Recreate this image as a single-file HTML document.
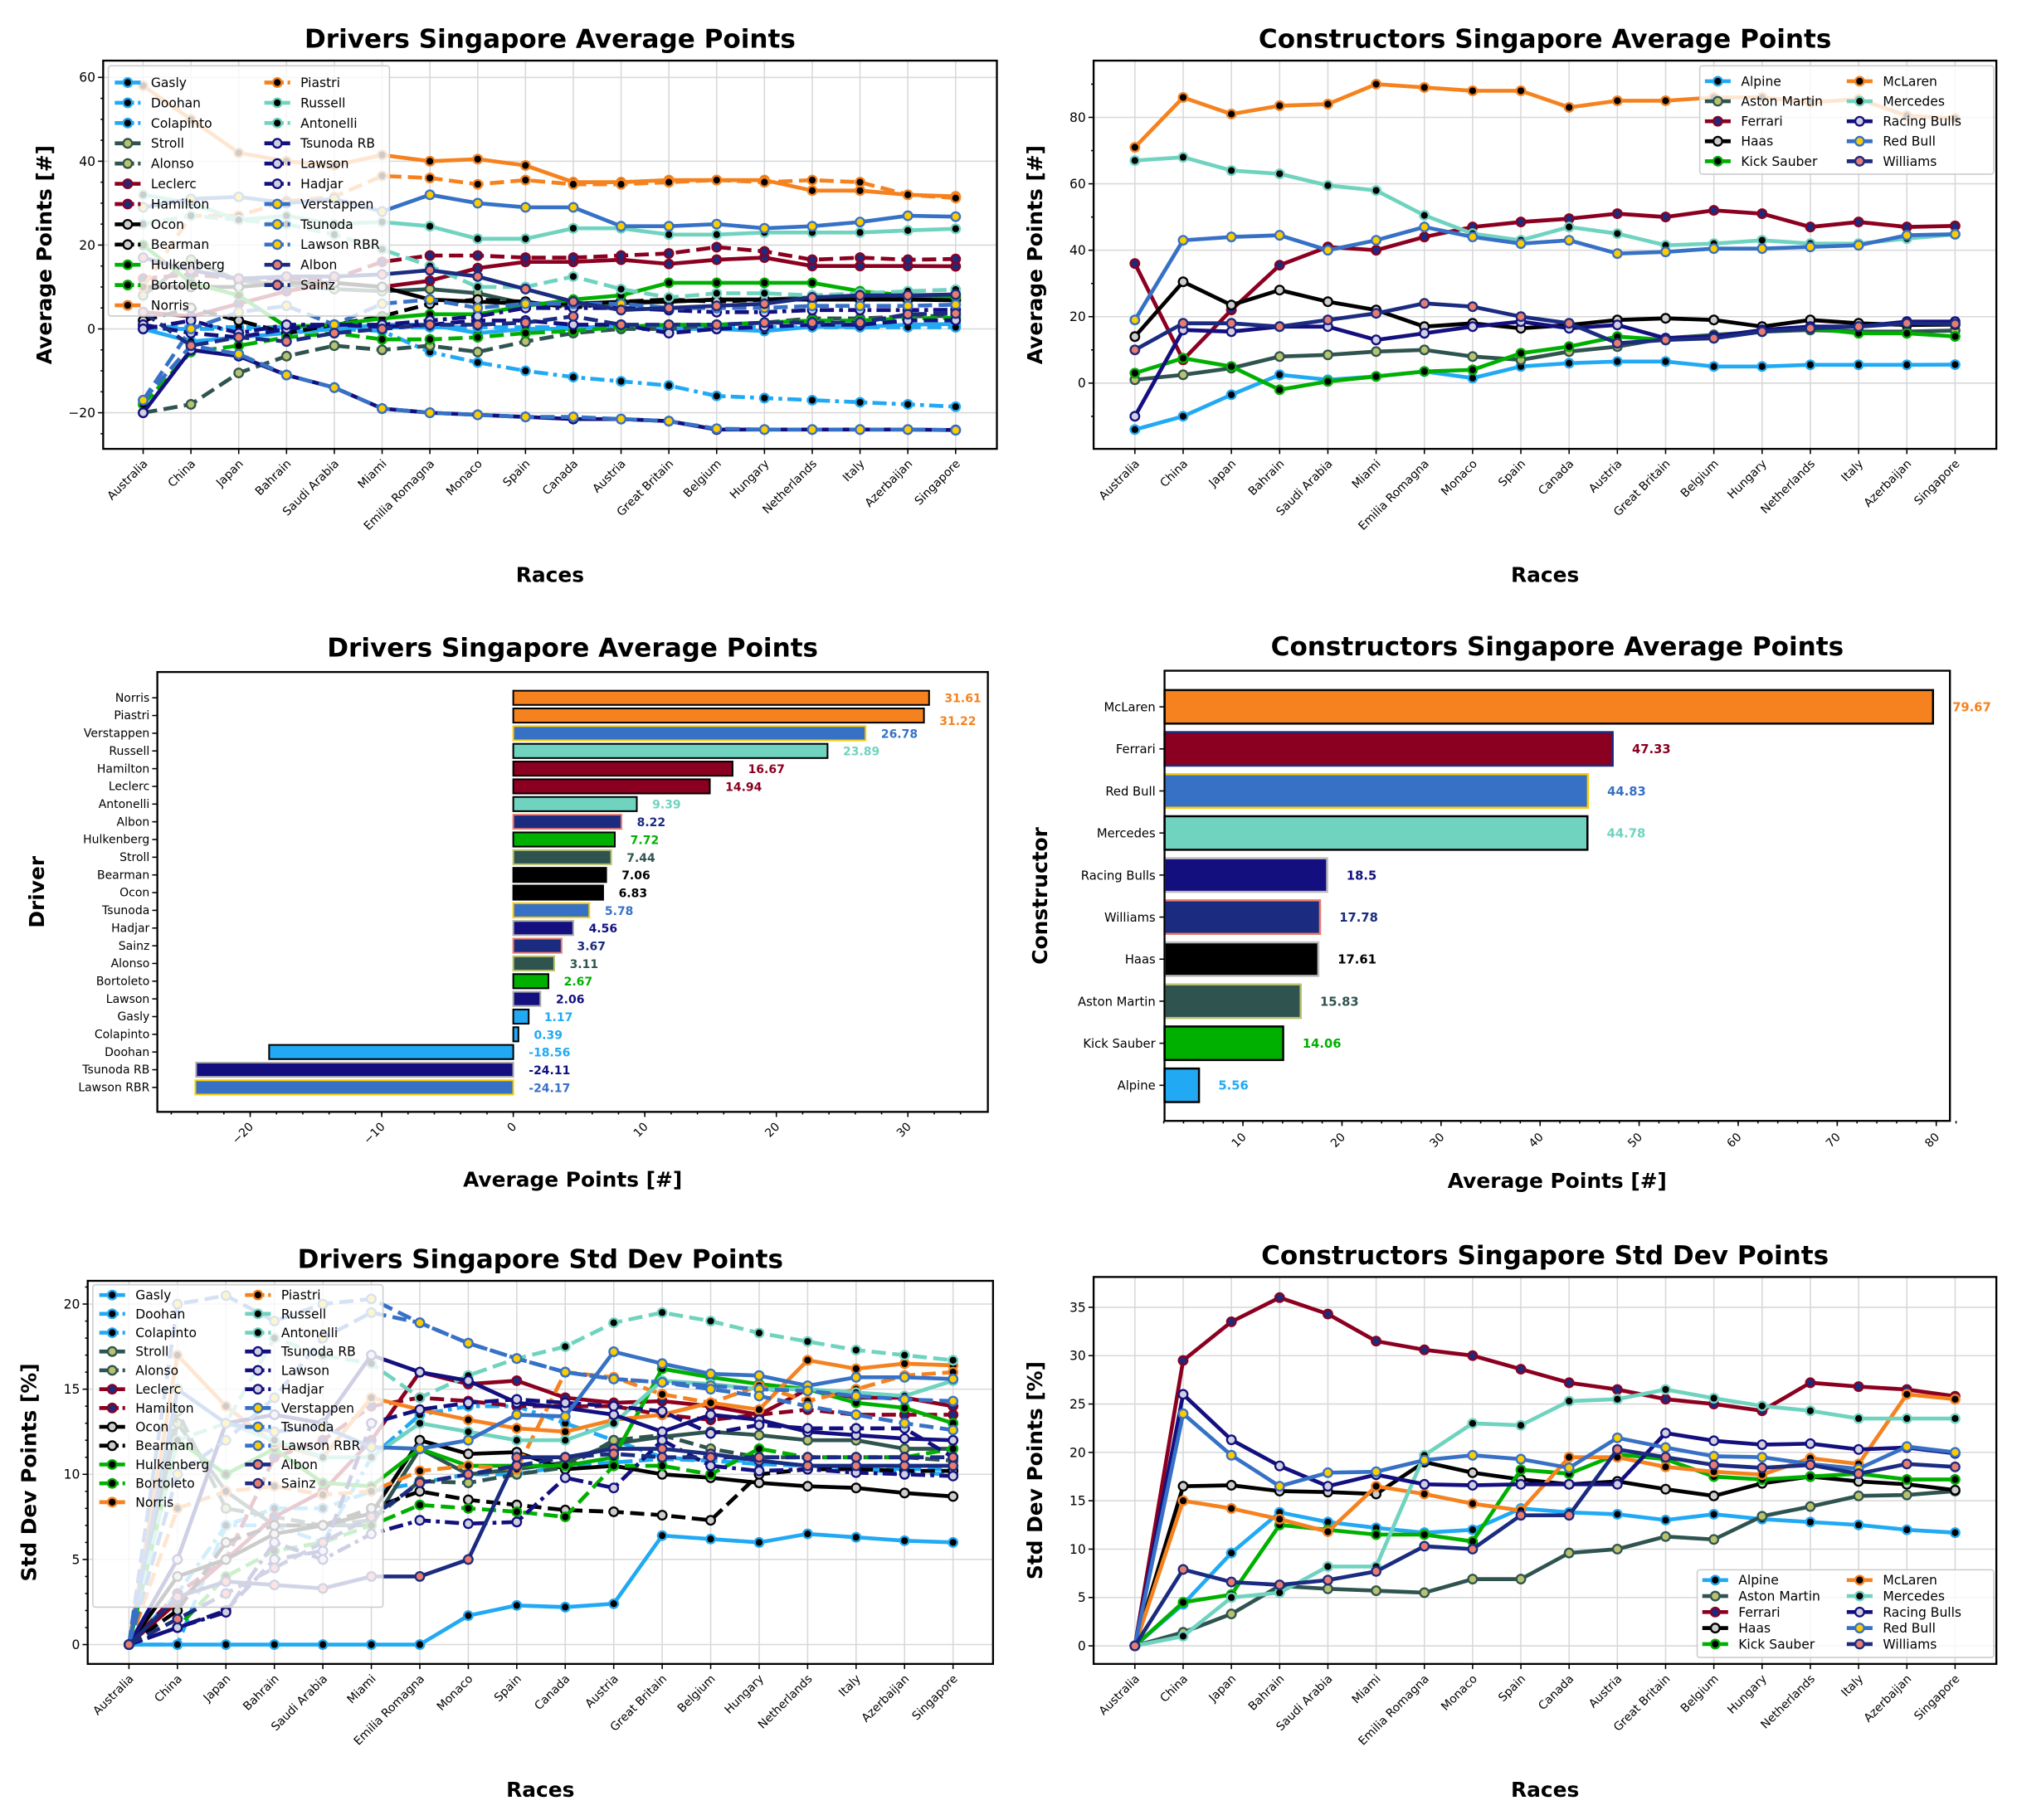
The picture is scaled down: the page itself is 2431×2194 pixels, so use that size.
<!DOCTYPE html>
<html><head><meta charset="utf-8"><style>
html,body{margin:0;padding:0;background:#fff}
svg{display:block}
text{font-family:"DejaVu Sans","Liberation Sans",sans-serif}
</style></head><body>
<svg id="s" width="2431" height="2194" viewBox="0 0 1564 1411" preserveAspectRatio="none" xmlns="http://www.w3.org/2000/svg"></svg>
<script>
const S=document.getElementById('s');const NS='http://www.w3.org/2000/svg';
function el(t,a,txt,p){const e=document.createElementNS(NS,t);for(const k in a)e.setAttribute(k,a[k]);if(txt!==undefined)e.textContent=txt;(p||S).appendChild(e);return e;}
const races=["Australia","China","Japan","Bahrain","Saudi Arabia","Miami","Emilia Romagna","Monaco","Spain","Canada","Austria","Great Britain","Belgium","Hungary","Netherlands","Italy","Azerbaijan","Singapore"];
const T={Alpine:["#21a9f4","#000"],Aston:["#2f5450","#b8c16d"],Ferrari:["#8b0020","#1a2b80"],Haas:["#000","#ccc"],Sauber:["#00b000","#000"],McLaren:["#f5821f","#000"],Mercedes:["#6fd3bf","#000"],RB:["#130f7f","#cfcfe0"],RedBull:["#3671c6","#fccb00"],Williams:["#1a2b80","#e87c6e"]};
const D="11,5",DD="11,4,3,4";
const drv={
Gasly:["Alpine","",[0,-3,-2,-1,0,1,1,-1,0,0,1,0,0,-0.5,0.5,0.5,1,1.17],[0,0,0,0,0,0,0,1.7,2.3,2.2,2.4,6.4,6.2,6,6.5,6.3,6.1,6]],
Doohan:["Alpine",DD,[0,0,0,0,0,-0.5,-5.5,-8,-10,-11.5,-12.5,-13.5,-16,-16.5,-17,-17.5,-18,-18.56],[0,3,7,7,6,11,13.5,14,14,13,12,11,10.8,10.8,10.5,10.3,10.1,10]],
Colapinto:["Alpine",D,[0.5,0.5,0.4,0.4,0.4,0.4,0.4,0.4,0.4,0.4,0.4,0.4,0.4,0.4,0.4,0.4,0.4,0.39],[0,0,7,8,8,9,9.5,10,10,10.5,10.7,10.9,10.8,10.6,10.5,10.4,10.3,10.3]],
Stroll:["Aston","",[8,16.5,11.5,10.5,9.5,9,9.5,8.5,6,5.5,6,6.5,7,7,7.5,7.5,7.5,7.44],[0,13,9,7,7,7,11.5,10,10.3,10.7,11.8,12.2,12.5,12.3,12,12,11.5,11.5]],
Alonso:["Aston",D,[-20,-18,-10.5,-6.5,-4,-5,-4,-5.5,-3,-1,0,0,1,1.5,2.5,2.5,3,3.11],[0,13.7,8,7.5,7,7.3,9.6,9.5,10,10.4,12,12.3,11.5,11,11,11,11,10.8]],
Leclerc:["Ferrari","",[4,3,6,9,11,10,11.5,14.5,16,16,16.5,15.5,16.5,17,15,15,15,14.94],[0,2.5,5,7.5,9,12,16,15.3,15.5,14.5,14.2,14.3,14,13.5,15,14.5,14.5,14]],
Hamilton:["Ferrari",D,[12,13,12,12,12,16,17.5,17.5,17,17,17.5,18,19.5,18.5,16.5,17,16.5,16.67],[0,3,5,11,12,14,14.5,14.3,14,14,14,13.5,13.2,13.5,13.8,13.5,13.5,13.5]],
Ocon:["Haas","",[10,10,10,11,11,10,7,6.5,6,6,6.5,6.5,7,7,7,7,7,6.83],[0,4,5,6.5,7,7.7,12,11.2,11.3,10.3,10.5,10,9.8,9.5,9.3,9.2,8.9,8.7]],
Bearman:["Haas",D,[2,5,2,-1,1,3,6,7,6.5,5,6.5,7,6.5,7,7,7,7,7.06],[0,2,6,7,7,8,9,8.5,8.2,7.9,7.8,7.6,7.3,10,10.3,10.3,10.2,10.2]],
Hulkenberg:["Sauber","",[20,11,8,0.5,1,2.5,3.5,3.5,5.5,7,8,11,11,11,11,9,8,7.72],[0,12,10,11.5,9.5,9.3,11.5,10.5,10.5,10.5,11,16.2,15.7,15.3,15,14.2,13.9,13]],
Bortoleto:["Sauber",D,[-18,-5.5,-4,-2,-1,-2.5,-2.5,-2,-1,-0.5,0.5,1,1,1.5,2,2,2.5,2.67],[0,1,4,5.5,6,7,8.2,8,7.8,7.5,10.5,10.5,10,11.5,11,11,11,11.5]],
Norris:["McLaren","",[58,50,42,40,39,41.5,40,40.5,39,35,35,35.5,35.5,35.5,33,33,32,31.61],[0,17,14,11.8,11,14.5,13.8,13.2,12.7,12.5,13.2,13.5,14.2,13.8,16.7,16.2,16.5,16.4]],
Piastri:["McLaren",D,[10,27,27,30.5,31.5,36.5,36,34.5,35.5,34.5,34.5,35,35.5,35,35.5,35,32,31.22],[0,8,9,9.3,8.8,9,10.2,10.5,10.3,16,15.7,14.7,14.2,15.2,14.3,15,15.8,16]],
Russell:["Mercedes","",[32,30,26,27,25,25.5,24.5,21.5,21.5,24,24,22.5,22.5,23,23,23,23.5,23.89],[0,5,13,12,11,11,13,12.5,12,12,13,15.5,15.3,15,15,14.8,14.6,15.5]],
Antonelli:["Mercedes",D,[25,27,26,25,22.5,19,15,10,10,12.5,9.5,7.5,8.5,8.5,8,8.5,9,9.39],[0,12,13,18,17,16.5,14.5,15.8,16.8,17.5,18.9,19.5,19,18.3,17.8,17.3,17,16.7]],
"Tsunoda RB":["RB","",[-20,-5,-6.5,-11,-14,-19,-20,-20.5,-21,-21.5,-21.5,-22,-24,-24,-24,-24,-24,-24.11],[0,5,13,13.5,13,17,16,15.5,14.2,13.9,13.5,12.5,13.5,13.2,12.5,12.3,12.1,12]],
Lawson:["RB",D,[1,-1,-2,0,1,0.5,1,2,2,1,1,-1,0,0.5,1,1,2,2.06],[0,1,2,5,5.5,13,13.8,14.2,14.4,14.2,14,13.7,12.4,12.9,12.7,12.7,12.7,11]],
Hadjar:["RB",DD,[0,2,-1,1,1,1,2,3,5,5,5,4.5,4,4,4.5,4.5,4.5,4.56],[0,1,1.9,6,5,6.5,7.3,7.1,7.2,9.8,9.2,12,10.5,10.2,10.3,10.1,10,9.9]],
Verstappen:["RedBull","",[29,31,31.5,30,31,28,32,30,29,29,24.5,24.5,25,24,24.5,25.5,27,26.78],[0,15,13,12.5,12.8,11.6,11.5,12,13.5,13.4,17.2,16.5,15.9,15.8,15.2,15.7,15.7,15.6]],
Tsunoda:["RedBull",D,[-17,0,4,5.5,1,6,7,5,6,6,6,5,5,5,5.5,5.5,5.5,5.78],[0,10,12,14.5,18,19.5,18.9,17.7,16.8,16,15.6,15.4,15.2,15,14.9,14.6,14.4,14.3]],
"Lawson RBR":["RedBull",D,[-17,-4,-6,-11,-14,-19,-20,-20.5,-21,-21,-21.5,-22,-23.8,-24,-24,-24,-24,-24.17],[0,20,20.5,19,20,20.3,18.9,17.7,16.8,16,15.6,15.4,15,14.6,14,13.5,13,12.6]],
Albon:["Williams","",[17,14,12,12.5,12.5,13,14,12.5,9.5,6.5,4.5,5,5.5,6,7.5,8,8,8.22],[0,2.8,3.7,3.5,3.3,4,4,5,11,11,11.5,11.5,11.2,10.8,10.5,10.5,10.5,10.5]],
Sainz:["Williams",D,[4,-4,-2,-3,-1,0,1,1,1.5,3,1,1,1,1.5,1.5,1.5,3.5,3.67],[0,1.5,3,4.5,6,7.5,9.5,10,10.5,11,11.2,11,11,11,11,11,11,11]]
};
const con={
Alpine:["Alpine",[-14,-10,-3.5,2.5,1,2,3.5,1.5,5,6,6.5,6.5,5,5,5.5,5.5,5.5,5.56],[0,4.3,9.6,13.8,12.8,12.2,11.7,12,14.2,13.8,13.6,13,13.6,13.1,12.8,12.5,12,11.7]],
"Aston Martin":["Aston",[1,2.5,4.5,8,8.5,9.5,10,8,7,9.5,11,13.5,14.5,15.5,16,15.5,15.5,15.83],[0,1.4,3.3,6.2,5.9,5.7,5.5,6.9,6.9,9.6,10,11.3,11,13.4,14.4,15.5,15.6,16]],
Ferrari:["Ferrari",[36,7,22,35.5,41,40,44,47,48.5,49.5,51,50,52,51,47,48.5,47,47.33],[0,29.5,33.5,36,34.3,31.5,30.6,30,28.6,27.2,26.5,25.5,25,24.3,27.2,26.8,26.5,25.8]],
Haas:["Haas",[14,30.5,23.5,28,24.5,22,17,18,16.5,17.5,19,19.5,19,17,19,18,17.5,17.61],[0,16.5,16.6,16,15.9,15.7,19,17.9,17.2,16.7,17,16.2,15.5,16.8,17.5,17,16.7,16.1]],
"Kick Sauber":["Sauber",[3,7.5,5,-2,0.5,2,3.5,4,9,11,14,13,14,15.5,16.5,15,15,14.06],[0,4.5,5.3,12.5,12,11.5,11.5,10.8,18.2,17.8,19.8,19.3,17.5,17.2,17.5,17.8,17.2,17.2]],
McLaren:["McLaren",[71,86,81,83.5,84,90,89,88,88,83,85,85,86,86,84.5,85.5,80.5,79.67],[0,15,14.2,13.1,11.8,16.5,15.7,14.7,14,19.5,19.5,18.5,18,17.7,19.4,18.8,26,25.5]],
Mercedes:["Mercedes",[67,68,64,63,59.5,58,50.5,45,43,47,45,41.5,42,43,42,42,43.5,44.78],[0,1,5,5.5,8.2,8.2,19.7,23,22.8,25.3,25.5,26.5,25.6,24.8,24.3,23.5,23.5,23.5]],
"Racing Bulls":["RB",[-10,16,15.5,17,17,13,15,17,18.5,16.5,17.5,13.5,14,16,17,17,18.5,18.5],[0,26,21.3,18.6,16.5,17.7,16.7,16.6,16.7,16.7,16.7,22,21.2,20.8,20.9,20.3,20.5,19.9]],
"Red Bull":["RedBull",[19,43,44,44.5,40,43,47,44,42,43,39,39.5,40.5,40.5,41,41.5,44.5,44.83],[0,24,19.7,16.5,17.9,18,19.2,19.7,19.3,18.4,21.5,20.5,19.6,19.5,18.8,18.3,20.6,20]],
Williams:["Williams",[10,18,18,17,19,21,24,23,20,18,12,13,13.5,15.5,16.5,17,18,17.78],[0,7.9,6.6,6.3,6.8,7.7,10.3,10,13.5,13.5,20.3,19.5,18.7,18.4,18.7,17.8,18.8,18.5]]
};
function title(x,y,t){el('text',{x:x,y:y,'text-anchor':'middle','font-size':20,'font-weight':'bold'},t);}
function frame(x0,y0,x1,y1){el('rect',{x:x0,y:y0,width:x1-x0,height:y1-y0,fill:'none',stroke:'#000','stroke-width':1.5});}
function linePanel(o){
 const X=i=>o.xa+i*(o.xb-o.xa)/17, Y=v=>o.y0-v*o.k;
 o.yt.forEach(v=>{el('line',{x1:o.L,x2:o.R,y1:Y(v),y2:Y(v),stroke:'#d8d8d8','stroke-width':1});});
 races.forEach((r,i)=>el('line',{x1:X(i),x2:X(i),y1:o.T,y2:o.B,stroke:'#d8d8d8','stroke-width':1}));
 o.series.forEach(s=>{
  const c=T[s.team];const pts=s.v.map((v,i)=>X(i)+','+Y(v)).join(' ');
  el('polyline',{points:pts,fill:'none',stroke:c[0],'stroke-width':3,'stroke-dasharray':s.dash||'none','stroke-linejoin':'round'});
  s.v.forEach((v,i)=>el('circle',{cx:X(i),cy:Y(v),r:3.4,fill:c[1],stroke:c[0],'stroke-width':1.5}));
 });
 frame(o.L,o.T,o.R,o.B);
 o.yt.forEach(v=>{el('line',{x1:o.L-4,x2:o.L,y1:Y(v),y2:Y(v),stroke:'#000'});el('text',{x:o.L-6,y:Y(v)+3.5,'text-anchor':'end','font-size':10},String(v).replace('-','−'));});
 (o.ym||[]).forEach(v=>el('line',{x1:o.L-2,x2:o.L,y1:Y(v),y2:Y(v),stroke:'#000'}));
 races.forEach((r,i)=>{el('line',{x1:X(i),x2:X(i),y1:o.B,y2:o.B+4,stroke:'#000'});el('text',{x:X(i)+4,y:o.B+12,'text-anchor':'end','font-size':9,transform:`rotate(-45 ${X(i)+4} ${o.B+12})`},r);});
 el('text',{x:(o.L+o.R)/2,y:o.B+103,'text-anchor':'middle','font-size':16,'font-weight':'bold'},'Races');
 el('text',{x:0,y:0,'text-anchor':'middle','font-size':16,'font-weight':'bold',transform:`translate(${o.L-40} ${(o.T+o.B)/2}) rotate(-90)`},o.ylab);
 title((o.L+o.R)/2,o.T-10,o.title);
 const lg=o.leg;el('rect',{x:lg.x,y:lg.y,width:lg.w,height:lg.h,fill:'#fff','fill-opacity':0.8,stroke:'#ccc',rx:2});
 o.series.forEach((s,i)=>{const col=Math.floor(i/lg.rows),row=i%lg.rows;const hx=lg.cx[col],hy=lg.ry+row*lg.step;const c=T[s.team];
  el('line',{x1:hx,x2:hx+20,y1:hy,y2:hy,stroke:c[0],'stroke-width':3,'stroke-dasharray':s.dash?'6,3':'none'});
  el('circle',{cx:hx+10,cy:hy,r:3.4,fill:c[1],stroke:c[0],'stroke-width':1.5});
  el('text',{x:hx+28,y:hy+3.5,'font-size':10},s.name);});
}
const dOrder=["Gasly","Doohan","Colapinto","Stroll","Alonso","Leclerc","Hamilton","Ocon","Bearman","Hulkenberg","Bortoleto","Norris","Piastri","Russell","Antonelli","Tsunoda RB","Lawson","Hadjar","Verstappen","Tsunoda","Lawson RBR","Albon","Sainz"];
const cOrder=["Alpine","Aston Martin","Ferrari","Haas","Kick Sauber","McLaren","Mercedes","Racing Bulls","Red Bull","Williams"];
linePanel({L:80,R:773,T:47,B:348,xa:111,xb:741,y0:255,k:3.25,yt:[-20,0,20,40,60],ym:[-25,-15,-10,-5,5,10,15,25,30,35,45,50,55],ylab:'Average Points [#]',title:'Drivers Singapore Average Points',
 series:dOrder.map(n=>({name:n,team:drv[n][0],dash:drv[n][1],v:drv[n][2]})),leg:{x:84,y:51,w:218,h:194,rows:12,cx:[89,205],ry:64,step:15.7}});
linePanel({L:848,R:1548,T:47,B:348,xa:880,xb:1516,y0:297,k:2.575,yt:[0,20,40,60,80],ym:[-10,10,30,50,70,90],ylab:'Average Points [#]',title:'Constructors Singapore Average Points',
 series:cOrder.map(n=>({name:n,team:con[n][0],v:con[n][1]})),leg:{x:1318,y:51,w:228,h:84,rows:5,cx:[1322,1432],ry:63,step:15.5}});
linePanel({L:68,R:770,T:993,B:1290,xa:100,xb:739,y0:1275,k:13.2,yt:[0,5,10,15,20],ym:[1,2,3,4,6,7,8,9,11,12,13,14,16,17,18,19,21],ylab:'Std Dev Points [%]',title:'Drivers Singapore Std Dev Points',
 series:dOrder.map(n=>({name:n,team:drv[n][0],dash:drv[n][1],v:drv[n][3]})),leg:{x:72,y:996,w:225,h:250,rows:12,cx:[77,190],ry:1004,step:14.6}});
linePanel({L:848,R:1548,T:990,B:1290,xa:880,xb:1516,y0:1276,k:7.5,yt:[0,5,10,15,20,25,30,35],ym:[],ylab:'Std Dev Points [%]',title:'Constructors Singapore Std Dev Points',
 series:cOrder.map(n=>({name:n,team:con[n][0],v:con[n][2]})),leg:{x:1316,y:1217,w:230,h:68,rows:5,cx:[1320,1432],ry:1225,step:12.4}});
(function(){
 const L=122,R=766,Tp=521,B=862,X=v=>398+10.2*v;
 const d=[["Norris",31.61,"McLaren"],["Piastri",31.22,"McLaren"],["Verstappen",26.78,"RedBull"],["Russell",23.89,"Mercedes"],["Hamilton",16.67,"Ferrari"],["Leclerc",14.94,"Ferrari"],["Antonelli",9.39,"Mercedes"],["Albon",8.22,"Williams"],["Hulkenberg",7.72,"Sauber"],["Stroll",7.44,"Aston"],["Bearman",7.06,"Haas"],["Ocon",6.83,"Haas"],["Tsunoda",5.78,"RedBull"],["Hadjar",4.56,"RB"],["Sainz",3.67,"Williams"],["Alonso",3.11,"Aston"],["Bortoleto",2.67,"Sauber"],["Lawson",2.06,"RB"],["Gasly",1.17,"Alpine"],["Colapinto",0.39,"Alpine"],["Doohan",-18.56,"Alpine"],["Tsunoda RB",-24.11,"RB"],["Lawson RBR",-24.17,"RedBull"]];
 const lblc={McLaren:"#f5821f",RedBull:"#3671c6",Mercedes:"#6fd3bf",Ferrari:"#8b0020",Williams:"#1a2b80",Sauber:"#00b000",Aston:"#2f5450",Haas:"#000",RB:"#130f7f",Alpine:"#21a9f4"};
 d.forEach((r,i)=>{const y=541+i*13.73;const x0=Math.min(X(0),X(r[1])),w=Math.abs(X(r[1])-X(0));const c=T[r[2]][0];
  const edge=r[2]=="RedBull"?"#fccb00":r[2]=="Williams"?"#e87c6e":r[2]=="RB"?"#aaa":r[2]=="Aston"?"#b8c16d":"#000";
  el('rect',{x:x0,y:y-5.5,width:w,height:11,fill:c,stroke:edge,'stroke-width':1.3});
  el('line',{x1:L-4,x2:L,y1:y,y2:y,stroke:'#000'});
  el('text',{x:L-6,y:y+3,'text-anchor':'end','font-size':9},r[0]);
  el('text',{x:Math.max(X(r[1]),X(0))+12,y:y+3.5+(r[0]=="Piastri"?4:0),'font-size':9,'font-weight':'bold',fill:lblc[r[2]]},String(r[1]));
 });
 frame(L,Tp,R,B);
 [-20,-10,0,10,20,30].forEach(v=>{el('line',{x1:X(v),x2:X(v),y1:B,y2:B+4,stroke:'#000'});el('text',{x:X(v)+3,y:B+12,'text-anchor':'end','font-size':9,transform:`rotate(-45 ${X(v)+3} ${B+12})`},String(v).replace('-','−'));});
 for(let v=-26;v<=34;v+=2){el('line',{x1:X(v),x2:X(v),y1:B,y2:B+2,stroke:'#000'});}
 el('text',{x:(L+R)/2,y:B+58,'text-anchor':'middle','font-size':16,'font-weight':'bold'},'Average Points [#]');
 el('text',{x:0,y:0,'text-anchor':'middle','font-size':16,'font-weight':'bold',transform:`translate(34 ${(Tp+B)/2}) rotate(-90)`},'Driver');
 title((L+R)/2,Tp-12,'Drivers Singapore Average Points');
})();
(function(){
 const L=903,R=1512,Tp=520,B=869,X=v=>887+7.68*v;
 const d=[["McLaren",79.67,"McLaren","#000","79.67"],["Ferrari",47.33,"Ferrari","#1a2b80","47.33"],["Red Bull",44.83,"RedBull","#fccb00","44.83"],["Mercedes",44.78,"Mercedes","#000","44.78"],["Racing Bulls",18.5,"RB","#bbb","18.5"],["Williams",17.78,"Williams","#e87c6e","17.78"],["Haas",17.61,"Haas","#bbb","17.61"],["Aston Martin",15.83,"Aston","#b8c16d","15.83"],["Kick Sauber",14.06,"Sauber","#000","14.06"],["Alpine",5.56,"Alpine","#000","5.56"]];
 const lblc={McLaren:"#f5821f",RedBull:"#3671c6",Mercedes:"#6fd3bf",Ferrari:"#8b0020",Williams:"#1a2b80",Sauber:"#00b000",Aston:"#2f5450",Haas:"#000",RB:"#130f7f",Alpine:"#21a9f4"};
 d.forEach((r,i)=>{const y=548+i*32.6;el('rect',{x:L,y:y-13,width:X(r[1])-L,height:26,fill:T[r[2]][0],stroke:r[3],'stroke-width':1.6});
  el('line',{x1:L-4,x2:L,y1:y,y2:y,stroke:'#000'});
  el('text',{x:L-7,y:y+3.5,'text-anchor':'end','font-size':9.5},r[0]);
  el('text',{x:X(r[1])+15,y:y+3.5,'font-size':9.5,'font-weight':'bold',fill:lblc[r[2]]},r[4]);});
 frame(L,Tp,R,B);
 for(let v=10;v<=80;v+=10){el('line',{x1:X(v),x2:X(v),y1:B,y2:B+4,stroke:'#000'});el('text',{x:X(v)+3,y:B+13,'text-anchor':'end','font-size':9,transform:`rotate(-45 ${X(v)+3} ${B+13})`},v);}
 for(let v=2;v<=82;v+=2){el('line',{x1:X(v),x2:X(v),y1:B,y2:B+2,stroke:'#000'});}
 el('text',{x:(L+R)/2,y:B+52,'text-anchor':'middle','font-size':16,'font-weight':'bold'},'Average Points [#]');
 el('text',{x:0,y:0,'text-anchor':'middle','font-size':16,'font-weight':'bold',transform:`translate(812 ${(Tp+B)/2}) rotate(-90)`},'Constructor');
 title((L+R)/2,Tp-12,'Constructors Singapore Average Points');
})();
</script>
</body></html>
